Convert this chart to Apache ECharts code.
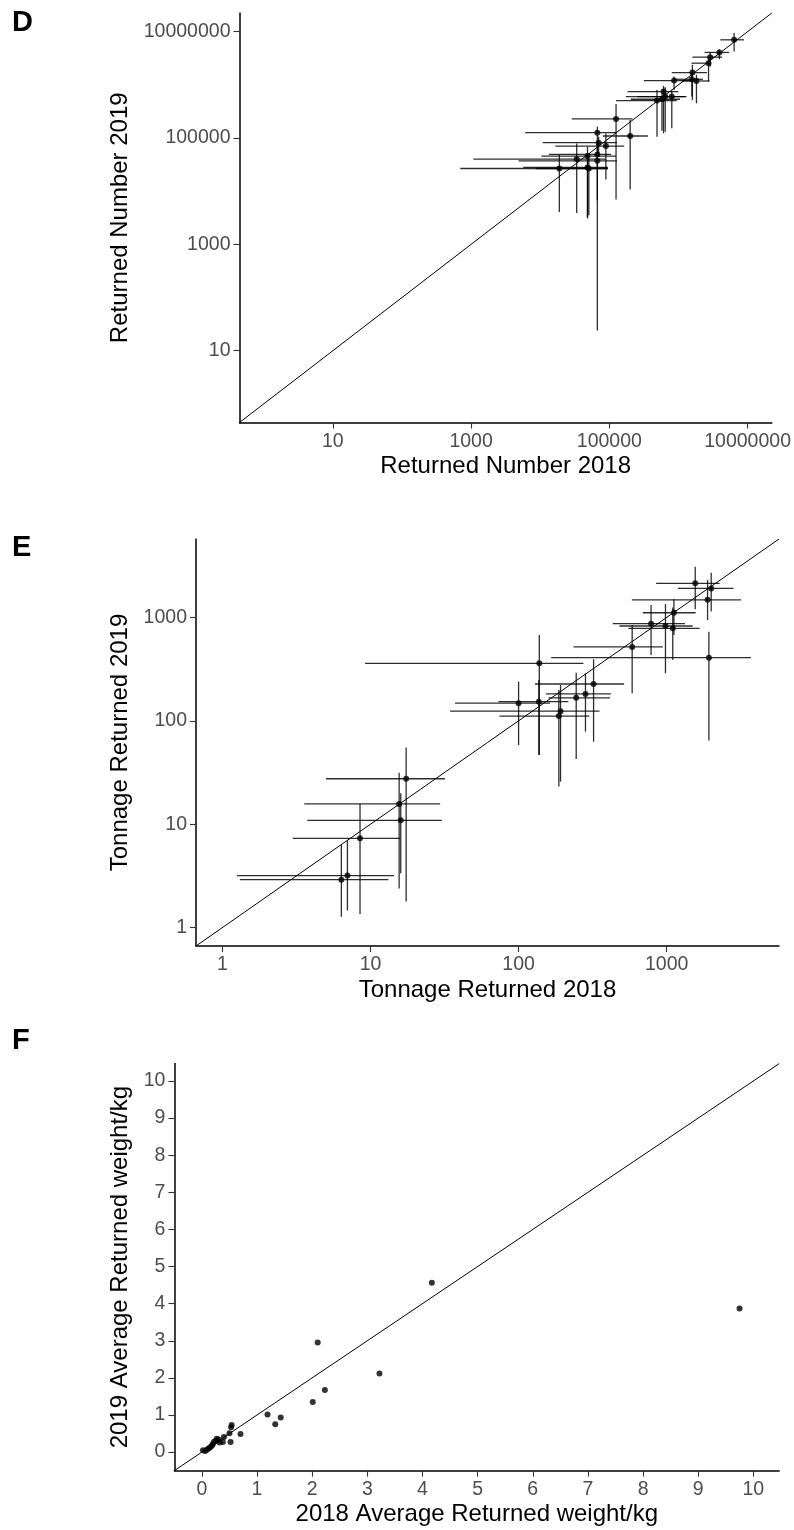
<!DOCTYPE html>
<html>
<head>
<meta charset="utf-8">
<script src="https://cdn.jsdelivr.net/npm/echarts@6/dist/echarts.min.js"></script>
<style>
  html, body { margin: 0; padding: 0; background: #fff; }
  #chart { width: 794px; height: 1530px; }
</style>
</head>
<body>
<div id="chart"></div>
<script>
// ---- Panel D: returned number, 2018 vs 2019 (estimate with lower / upper bounds) ----
const numX    = [6380000, 3900000, 2870000, 2720000, 1590000, 1560000, 1820000, 863000, 608000, 643000, 489000, 800000, 577000,
                 125000, 200000, 67000, 70000, 89100, 67000, 48300, 33700, 67000, 48300, 50500, 18900];
const numXLo  = [4030000, 2380000, 1590000, 1540000, 800000, 845000, 1110000, 316000, 183000, 173000, 125000, 254000, 204000,
                 28600, 80700, 6050, 10900, 16600, 13300, 10400, 1080, 4860, 5680, 8590, 697];
const numXHi  = [8850000, 5410000, 4260000, 2870000, 2580000, 2260000, 2810000, 1460000, 995000, 1240000, 942000, 1310000, 1050000,
                 216000, 361000, 125000, 129000, 164000, 106000, 125000, 90000, 129000, 95100, 95100, 95100];
const numY    = [7010000, 4060000, 3310000, 2550000, 1700000, 1270000, 1180000, 1200000, 745000, 600000, 505000, 600000, 535000,
                 228000, 109000, 126000, 81500, 70500, 49100, 45600, 40100, 37200, 27900, 26700, 26700];
const numYLo  = [4230000, 3030000, 2210000, 1150000, 519000, 600000, 449000, 802000, 122000, 131000, 106000, 152000, 137000,
                 6950, 10700, 63700, 44400, 16600, 6760, 3280, 3900, 24, 3050, 3520, 4070];
const numYHi  = [9380000, 4680000, 4060000, 3170000, 2370000, 1770000, 1540000, 1430000, 953000, 899000, 802000, 778000, 693000,
                 437000, 218000, 163000, 106000, 122000, 79100, 68400, 79100, 70800, 47600, 41200, 47600];
const numTicks = [10, 1000, 100000, 10000000];
const numLimits = [0.44668, 22387211];

// ---- Panel E: tonnage returned, 2018 vs 2019 ----
const tonX    = [1560, 2000, 1890, 1930, 1120, 1100, 982, 785, 585, 321, 283, 245, 192, 187, 138, 137, 100,
                 17.4, 15.6, 16.0, 8.49, 6.98, 6.35];
const tonXLo  = [849, 1190, 582, 166, 690, 552, 480, 433, 235, 129, 153, 159, 34.4, 74.3, 9.18, 73.1, 37.2,
                 5.0, 3.57, 3.74, 2.98, 1.25, 1.31];
const tonXHi  = [2280, 2830, 3180, 3710, 1570, 1670, 1500, 1330, 942, 516, 420, 415, 352, 301, 274, 217, 163,
                 31.8, 29.5, 30.3, 15.8, 14.4, 13.2];
const tonY    = [2140, 1910, 1480, 408, 1110, 785, 826, 871, 518, 227, 182, 167, 124, 111, 360, 153, 148,
                 27.5, 15.7, 10.9, 7.29, 3.18, 2.90];
const tonYLo  = [1200, 1140, 944, 64.3, 676, 387, 288, 434, 185, 62.8, 78.5, 42.7, 25.8, 23.1, 46.7, 46.7, 58.3,
                 1.78, 2.39, 3.34, 1.35, 1.46, 1.27];
const tonYHi  = [3100, 2710, 2300, 728, 1500, 1250, 1350, 1320, 845, 394, 288, 292, 222, 199, 676, 248, 239,
                 55.3, 31.5, 19.9, 15.7, 7.03, 6.28];
const tonTicks = [1, 10, 100, 1000];
const tonLimits = [0.6622, 5741];

// ---- Panel F: average returned weight (kg), 2018 vs 2019 ----
const avgX = [0.02, 0.06, 0.09, 0.12, 0.15, 0.18, 0.20, 0.22, 0.25, 0.27, 0.30, 0.32, 0.38, 0.40, 0.50, 0.52, 0.53, 0.54,
              0.70, 1.19, 1.33, 1.43, 2.01, 2.10, 2.23, 3.22, 4.17, 9.75];
const avgY = [0.05, 0.03, 0.06, 0.10, 0.13, 0.17, 0.22, 0.28, 0.30, 0.36, 0.34, 0.26, 0.27, 0.41, 0.51, 0.27, 0.67, 0.73,
              0.49, 1.01, 0.75, 0.93, 1.35, 2.95, 1.67, 2.12, 4.56, 3.87];
const avgTicks = [0, 1, 2, 3, 4, 5, 6, 7, 8, 9, 10];
const avgLimits = [-0.4985, 10.4685];

// ---- shared styling ----
const FONT = "'Liberation Sans', Arial, Helvetica, sans-serif";
const TICK_GREY = '#4d4d4d';
const BAR_COLOR = 'rgba(0,0,0,0.82)';

function zip(...cols) {
  return cols[0].map((_, i) => cols.map(c => c[i]));
}

function renderErrorBars(params, api) {
  const x = api.value(0), y = api.value(1);
  const l = api.coord([api.value(2), y]);
  const r = api.coord([api.value(3), y]);
  const b = api.coord([x, api.value(4)]);
  const t = api.coord([x, api.value(5)]);
  const style = { stroke: BAR_COLOR, lineWidth: 1.3, fill: null };
  return {
    type: 'group',
    children: [
      { type: 'line', shape: { x1: l[0], y1: l[1], x2: r[0], y2: r[1] }, style: style },
      { type: 'line', shape: { x1: b[0], y1: b[1], x2: t[0], y2: t[1] }, style: style }
    ]
  };
}

function makeAxis(opts) {
  return {
    type: opts.type,
    gridIndex: opts.grid,
    min: opts.limits[0],
    max: opts.limits[1],
    name: opts.name,
    nameLocation: 'middle',
    nameGap: opts.nameGap,
    nameRotate: opts.rotate,
    nameTextStyle: { color: '#000', fontSize: 24, fontFamily: FONT },
    axisLine: { show: true, onZero: false, lineStyle: { color: '#000', width: 1.5 } },
    axisTick: { show: true, length: 6, customValues: opts.ticks, lineStyle: { color: '#333', width: 1.1 } },
    axisLabel: {
      customValues: opts.ticks,
      color: TICK_GREY, fontSize: 19.5, fontFamily: FONT, margin: 9,
      formatter: function (v) { return String(Math.round(v)); }
    },
    splitLine: { show: false },
    minorTick: { show: false }
  };
}

const grids = [
  { left: 239.5, top: 13, width: 540, height: 409.5 },
  { left: 196, top: 539, width: 583, height: 407 },
  { left: 174.4, top: 1063.6, width: 604.8, height: 407 }
];

const option = {
  backgroundColor: '#fff',
  animation: false,
  grid: grids,
  xAxis: [
    makeAxis({ type: 'log', grid: 0, limits: numLimits, ticks: numTicks, name: 'Returned Number 2018', nameGap: 32 }),
    makeAxis({ type: 'log', grid: 1, limits: tonLimits, ticks: tonTicks, name: 'Tonnage Returned 2018', nameGap: 32 }),
    makeAxis({ type: 'value', grid: 2, limits: avgLimits, ticks: avgTicks, name: '2018 Average Returned weight/kg', nameGap: 32 })
  ],
  yAxis: [
    makeAxis({ type: 'log', grid: 0, limits: numLimits, ticks: numTicks, name: 'Returned Number 2019', nameGap: 104, rotate: 90 }),
    makeAxis({ type: 'log', grid: 1, limits: tonLimits, ticks: tonTicks, name: 'Tonnage Returned 2019', nameGap: 61, rotate: 90 }),
    makeAxis({ type: 'value', grid: 2, limits: avgLimits, ticks: avgTicks, name: '2019 Average Returned weight/kg', nameGap: 39, rotate: 90 })
  ],
  graphic: [
    { type: 'text', left: 12, top: 8, style: { text: 'D', font: 'bold 29px ' + FONT, fill: '#000' } },
    { type: 'text', left: 12, top: 533, style: { text: 'E', font: 'bold 29px ' + FONT, fill: '#000' } },
    { type: 'text', left: 12, top: 1026, style: { text: 'F', font: 'bold 29px ' + FONT, fill: '#000' } }
  ],
  series: [
    // 1:1 reference lines
    { type: 'line', xAxisIndex: 0, yAxisIndex: 0, data: [[numLimits[0], numLimits[0]], [numLimits[1], numLimits[1]]],
      symbol: 'none', silent: true, lineStyle: { color: '#000', width: 1 }, z: 1 },
    { type: 'line', xAxisIndex: 1, yAxisIndex: 1, data: [[tonLimits[0], tonLimits[0]], [tonLimits[1], tonLimits[1]]],
      symbol: 'none', silent: true, lineStyle: { color: '#000', width: 1 }, z: 1 },
    { type: 'line', xAxisIndex: 2, yAxisIndex: 2, data: [[avgLimits[0], avgLimits[0]], [avgLimits[1], avgLimits[1]]],
      symbol: 'none', silent: true, lineStyle: { color: '#000', width: 1 }, z: 1 },
    // error bars
    { type: 'custom', xAxisIndex: 0, yAxisIndex: 0, renderItem: renderErrorBars, silent: true, z: 2,
      encode: { x: [0, 2, 3], y: [1, 4, 5] },
      data: zip(numX, numY, numXLo, numXHi, numYLo, numYHi) },
    { type: 'custom', xAxisIndex: 1, yAxisIndex: 1, renderItem: renderErrorBars, silent: true, z: 2,
      encode: { x: [0, 2, 3], y: [1, 4, 5] },
      data: zip(tonX, tonY, tonXLo, tonXHi, tonYLo, tonYHi) },
    // points
    { type: 'scatter', xAxisIndex: 0, yAxisIndex: 0, data: zip(numX, numY), symbolSize: 6,
      itemStyle: { color: '#000' }, z: 3 },
    { type: 'scatter', xAxisIndex: 1, yAxisIndex: 1, data: zip(tonX, tonY), symbolSize: 6,
      itemStyle: { color: '#000' }, z: 3 },
    { type: 'scatter', xAxisIndex: 2, yAxisIndex: 2, data: zip(avgX, avgY), symbolSize: 6,
      itemStyle: { color: '#000' }, z: 3 }
  ]
};

const chart = echarts.init(document.getElementById('chart'), null, { renderer: 'canvas' });
chart.setOption(option);
</script>
</body>
</html>
